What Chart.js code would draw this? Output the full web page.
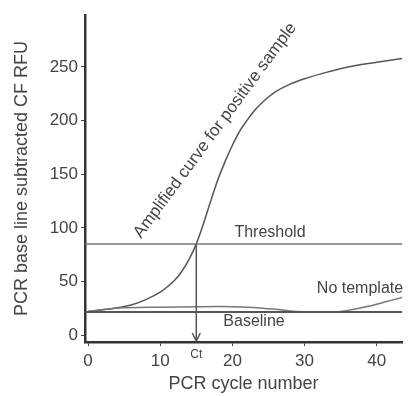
<!DOCTYPE html>
<html>
<head>
<meta charset="utf-8">
<script src="https://cdn.jsdelivr.net/npm/chart.js@4.4.1/dist/chart.umd.min.js"></script>
<style>
  html, body { margin: 0; padding: 0; background: #fff; }
  #wrap { width: 409px; height: 396px; }
</style>
</head>
<body>
<div id="wrap"><canvas id="pcrChart" width="409" height="396"></canvas></div>
<script>
// values
const ampCycles = [0, 2, 4, 6, 8, 10, 11, 12, 13, 14, 15, 16, 17, 18, 19, 20, 21, 22, 23, 24, 25, 26, 28, 30, 33, 36, 40, 43.5];
const ampRfu = [22, 23.5, 25.5, 28, 33, 40, 45, 51, 59.5, 70.5, 85, 104, 125, 145, 162, 177, 190, 200, 209, 216, 222, 227, 234, 239, 245, 250, 254.5, 258];

const ntcCycles = [0, 4, 10, 18, 22, 26, 28, 31, 34, 36, 39, 41, 43.5];
const ntcRfu = [22, 25, 26, 26.5, 26, 24, 22.5, 21.5, 21.5, 23, 27, 30.5, 35];

const thresholdRfu = 85;
const baselineRfu = 21.5;
const ctCycle = 15;

const xTicks = [0, 10, 20, 30, 40];
const yTicks = [0, 50, 100, 150, 200, 250];

const xMin = -0.42, xMax = 43.5;
const yMin = -6.5, yMax = 298.5;

const textColor = '#444';
const font = 'Liberation Sans, Arial, sans-serif';

const toPoints = (xs, ys) => xs.map((x, i) => ({ x: x, y: ys[i] }));

// free text labels and the Ct arrow
const annotationPlugin = {
    id: 'pcrNotes',
    afterDatasetsDraw(chart) {
        const ctx = chart.ctx;
        const xs = chart.scales.x;
        const ys = chart.scales.y;
        ctx.save();
        ctx.fillStyle = textColor;

        // Ct arrow
        const cx = xs.getPixelForValue(ctCycle);
        const top = ys.getPixelForValue(thresholdRfu);
        const bottom = chart.chartArea.bottom - 1;
        ctx.strokeStyle = '#555';
        ctx.lineWidth = 1.5;
        ctx.beginPath();
        ctx.moveTo(cx, top);
        ctx.lineTo(cx, bottom);
        ctx.moveTo(cx - 4, bottom - 8);
        ctx.lineTo(cx, bottom);
        ctx.lineTo(cx + 4, bottom - 8);
        ctx.stroke();

        ctx.font = '12px ' + font;
        ctx.textAlign = 'center';
        ctx.textBaseline = 'middle';
        ctx.fillText('Ct', cx, 355);

        ctx.font = '16px ' + font;
        ctx.fillText('Threshold', 270, 233);
        ctx.fillText('No template', 360, 289);
        ctx.fillText('Baseline', 254, 322);

        ctx.save();
        ctx.translate(141, 239);
        ctx.rotate(-53.6 * Math.PI / 180);
        ctx.font = '17px ' + font;
        ctx.textAlign = 'left';
        ctx.textBaseline = 'alphabetic';
        ctx.fillText('Amplified curve for positive sample', 0, 0);
        ctx.restore();

        ctx.restore();
    }
};

new Chart(document.getElementById('pcrChart'), {
    type: 'scatter',
    data: {
        datasets: [
            {
                label: 'Threshold',
                data: [{ x: xMin, y: thresholdRfu }, { x: xMax, y: thresholdRfu }],
                showLine: true,
                borderColor: '#777',
                borderWidth: 1.5,
                pointRadius: 0
            },
            {
                label: 'Baseline',
                data: [{ x: xMin, y: baselineRfu }, { x: xMax, y: baselineRfu }],
                showLine: true,
                borderColor: '#555',
                borderWidth: 2,
                pointRadius: 0
            },
            {
                label: 'No template',
                data: toPoints(ntcCycles, ntcRfu),
                showLine: true,
                borderColor: '#777',
                borderWidth: 1.5,
                pointRadius: 0,
                cubicInterpolationMode: 'monotone'
            },
            {
                label: 'Amplified curve for positive sample',
                data: toPoints(ampCycles, ampRfu),
                showLine: true,
                borderColor: '#555',
                borderWidth: 1.5,
                pointRadius: 0,
                cubicInterpolationMode: 'monotone'
            }
        ]
    },
    options: {
        responsive: false,
        animation: false,
        layout: { padding: { left: 0, top: 15, right: 7, bottom: 0 } },
        plugins: {
            legend: { display: false },
            tooltip: { enabled: false }
        },
        scales: {
            x: {
                type: 'linear',
                min: xMin,
                max: xMax,
                afterBuildTicks: scale => { scale.ticks = xTicks.map(v => ({ value: v })); },
                afterFit: scale => { scale.height = 54; },
                border: { color: '#333', width: 2.5 },
                grid: { drawOnChartArea: false, tickLength: 4, color: '#444' },
                ticks: {
                    color: textColor,
                    padding: 5,
                    maxRotation: 0,
                    font: { family: font, size: 17 }
                },
                title: {
                    display: true,
                    text: 'PCR cycle number',
                    color: textColor,
                    padding: { top: 0, bottom: 1 },
                    font: { family: font, size: 18 }
                }
            },
            y: {
                type: 'linear',
                min: yMin,
                max: yMax,
                afterBuildTicks: scale => { scale.ticks = yTicks.map(v => ({ value: v })); },
                afterFit: scale => { scale.width = 85; },
                border: { color: '#333', width: 2.5 },
                grid: { drawOnChartArea: false, tickLength: 4, color: '#444' },
                ticks: {
                    color: textColor,
                    padding: 3,
                    font: { family: font, size: 17 }
                },
                title: {
                    display: true,
                    text: 'PCR base line subtracted CF RFU',
                    color: textColor,
                    padding: { top: 11, bottom: 0 },
                    font: { family: font, size: 18 }
                }
            }
        }
    },
    plugins: [annotationPlugin]
});
</script>
</body>
</html>
